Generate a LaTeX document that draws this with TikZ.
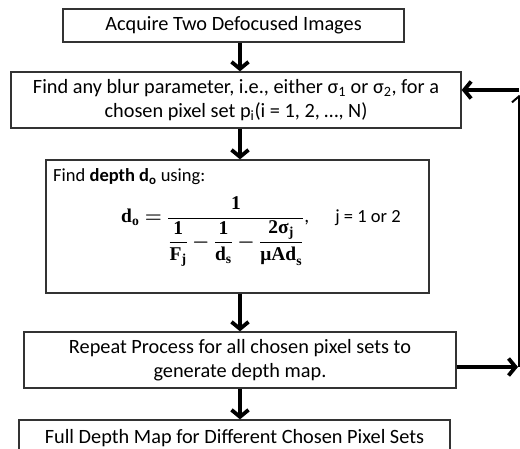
\RequirePackage{fix-cm}
\documentclass[tikz,border=0pt]{standalone}
\usepackage{amsmath}
\usepackage{bm}
\usepackage[no-math]{fontspec}
\setmainfont{Carlito}
\newfontfamily\eqfont{Liberation Serif}
\newcommand{\eqb}[1]{\text{\eqfont\bfseries #1}}
\usetikzlibrary{arrows.meta}

\tikzset{
  stepbox/.style={draw=black!80, line width=1.3pt, inner sep=0pt, align=center,
    font=\fontsize{20.3}{24}\selectfont},
  flow/.style={line width=3.8pt, -{Straight Barb[length=7pt,width=17pt]}},
  backflow/.style={line width=2pt, -{Straight Barb[length=6pt,width=14pt]}},
}

\begin{document}
\begin{tikzpicture}[x=1pt,y=-1pt]
\useasboundingbox (0,0) rectangle (520,449);
\clip (0,0) rectangle (520,449);

% boxes
\node[stepbox, minimum width=341pt, minimum height=33pt] (acq) at (233.5,25.5) {Acquire Two Defocused Images};
\node[stepbox, minimum width=450pt, minimum height=56pt] (find) at (236,100)
  {Find any blur parameter, i.e., either σ\textsubscript{1} or σ\textsubscript{2}, for a\\
   chosen pixel set p\textsubscript{i}(i = 1, 2, …, N)};
\node[stepbox, minimum width=383pt, minimum height=133pt] (depth) at (237.5,226.5) {};
\node[stepbox, minimum width=432pt, minimum height=56pt] (rep) at (240,360)
  {Repeat Process for all chosen pixel sets to\\generate depth map.};
\node[stepbox, minimum width=431pt, minimum height=36pt] (full) at (234.5,438) {Full Depth Map for Different Chosen Pixel Sets};

% inside the depth box
\node[anchor=base west, inner sep=0pt, font=\fontsize{18.5}{22}\selectfont] (depthlbl) at (53,182)
  {Find \textbf{depth d\textsubscript{o}} using:};
\node[anchor=base west, inner sep=0pt, font=\fontsize{19.5}{23}\selectfont] (eq) at (121,223)
  {$\eqb{d}_{\eqb{o}}\bm{=}\dfrac{\eqb{1}}{\dfrac{\eqb{1}}{\eqb{F}_{\eqb{j}}}\bm{-}\dfrac{\eqb{1}}{\eqb{d}_{\eqb{s}}}\bm{-}\dfrac{\eqb{2σ}_{\eqb{j}}}{\eqb{μAd}_{\eqb{s}}}}$,\hspace{26pt}{\fontsize{18.5}{22}\selectfont j = 1 or 2}};

% arrows down the middle
\coordinate (axis) at (240,0);
\draw[flow] (acq.south -| axis) -- (find.north -| axis);
\draw[flow] (find.south -| axis) -- (depth.north -| axis);
\draw[flow] (depth.south -| axis) -- (rep.north -| axis);
\draw[flow] (rep.south -| axis) -- (full.north -| axis);

% loop back
\coordinate (loopin) at (519,367);
\coordinate (loopout) at (519,90);
\draw[flow, shorten >=1pt] (rep.east |- loopin) -- (loopin);
\draw[backflow] (loopin) -- ([yshift=-5pt]loopout);
\draw[flow] (loopout) -- (find.east |- loopout);
\end{tikzpicture}
\end{document}
